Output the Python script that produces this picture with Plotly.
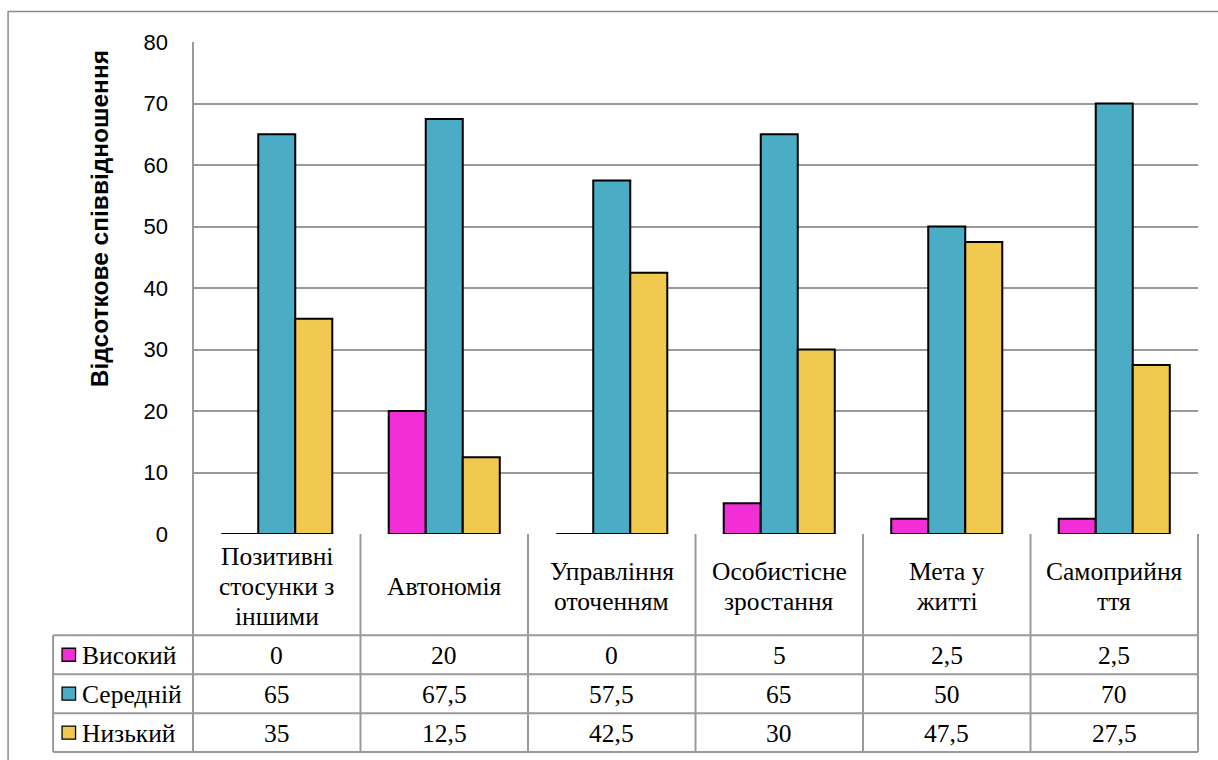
import plotly.graph_objects as go

# Data
categories = [
    "Позитивні\nстосунки з\nіншими",
    "Автономія",
    "Управління\nоточенням",
    "Особистісне\nзростання",
    "Мета у\nжитті",
    "Самоприйня\nття",
]
series_names = ["Високий", "Середній", "Низький"]
high = [0, 20, 0, 5, 2.5, 2.5]
medium = [65, 67.5, 57.5, 65, 50, 70]
low = [35, 12.5, 42.5, 30, 47.5, 27.5]
y_ticks = [0, 10, 20, 30, 40, 50, 60, 70, 80]
y_title = "Відсоткове співвідношення"

series_values = [high, medium, low]
colors = ["#F22FD6", "#4BACC6", "#F2C94F"]

# Layout geometry (pixels)
FIG_W, FIG_H = 1218, 760
L, R, T, B = 193, 1198.5, 41.5, 534.5
ROW_EDGES = [B, 636, 675, 714, 753]
LEGEND_LEFT = 53
GRID = "#9a9a9a"
SERIF = "Liberation Serif"
SANS = "Liberation Sans"
TABLE_FONT = 25.5


def fx(px):
    return (px - L) / (R - L)


def fy(py):
    return (B - py) / (B - T)


def fmt(v):
    return f"{v:g}".replace(".", ",")


x_pos = list(range(len(categories)))

fig = go.Figure()
for name, vals, col in zip(series_names, series_values, colors):
    fig.add_trace(go.Bar(
        x=x_pos, y=vals, name=name,
        marker=dict(color=col, line=dict(color="black", width=2)),
        showlegend=False,
    ))

shapes = []
annotations = []

def hline(y, x0, x1, color=GRID, width=2):
    shapes.append(dict(type="line", xref="paper", yref="paper",
                       x0=fx(x0), x1=fx(x1), y0=fy(y), y1=fy(y),
                       line=dict(color=color, width=width)))

def vline(x, y0, y1, color=GRID, width=2):
    shapes.append(dict(type="line", xref="paper", yref="paper",
                       x0=fx(x), x1=fx(x), y0=fy(y0), y1=fy(y1),
                       line=dict(color=color, width=width)))

# Outer chart border
shapes.append(dict(type="rect", xref="paper", yref="paper",
                   x0=fx(8), x1=fx(1250), y0=fy(11), y1=fy(800),
                   line=dict(color="#8c8c8c", width=1.5),
                   fillcolor="rgba(0,0,0,0)"))

# Data table grid
n = len(categories)
col_w = (R - L) / n
vline(L, T, ROW_EDGES[-1])
for k in range(1, n + 1):
    vline(L + k * col_w, B, ROW_EDGES[-1])
vline(LEGEND_LEFT, ROW_EDGES[1], ROW_EDGES[-1])
for y in ROW_EDGES[1:]:
    hline(y, LEGEND_LEFT, R)

# Category header text
line_gap = 30
for i, cat in enumerate(categories):
    lines = cat.split("\n")
    cx = L + (i + 0.5) * col_w
    for j, ln in enumerate(lines):
        cy = 587 + (j - (len(lines) - 1) / 2) * line_gap
        annotations.append(dict(xref="paper", yref="paper", x=fx(cx), y=fy(cy),
                                text=ln, showarrow=False, xanchor="center",
                                yanchor="middle",
                                font=dict(family=SERIF, size=TABLE_FONT, color="black")))

# Value rows with legend keys
for r, (name, vals, col) in enumerate(zip(series_names, series_values, colors)):
    cy = (ROW_EDGES[r + 1] + ROW_EDGES[r + 2]) / 2
    shapes.append(dict(type="rect", xref="paper", yref="paper",
                       x0=fx(62), x1=fx(75.5), y0=fy(cy - 6.5), y1=fy(cy + 6.5),
                       fillcolor=col, line=dict(color="black", width=1.3)))
    annotations.append(dict(xref="paper", yref="paper", x=fx(80), y=fy(cy + 1),
                            text=name, showarrow=False, xanchor="left",
                            yanchor="middle",
                            font=dict(family=SERIF, size=TABLE_FONT, color="black")))
    for i, v in enumerate(vals):
        cx = L + (i + 0.5) * col_w
        annotations.append(dict(xref="paper", yref="paper", x=fx(cx), y=fy(cy + 1),
                                text=fmt(v), showarrow=False, xanchor="center",
                                yanchor="middle",
                                font=dict(family=SERIF, size=TABLE_FONT, color="black")))

# Y axis title
annotations.append(dict(xref="paper", yref="paper", x=fx(99), y=fy(219),
                        text="<b>" + y_title + "</b>", showarrow=False,
                        textangle=-90, xanchor="center", yanchor="middle",
                        font=dict(family=SANS, size=24.5, color="black")))

fig.update_layout(
    width=FIG_W, height=FIG_H,
    margin=dict(l=L, r=FIG_W - R, t=T, b=FIG_H - B, pad=0),
    paper_bgcolor="white", plot_bgcolor="white",
    barmode="group", bargap=0.337, bargroupgap=0,
    shapes=shapes, annotations=annotations,
    xaxis=dict(range=[-0.5, n - 0.5], showticklabels=False, showgrid=False,
               zeroline=False, showline=False, ticks=""),
    yaxis=dict(range=[0, 80], tickvals=y_ticks, showgrid=True,
               gridcolor=GRID, gridwidth=1.6, zeroline=False, showline=False,
               ticks="", ticklabelstandoff=24,
               tickfont=dict(family=SANS, size=22, color="black")),
)

fig.write_html("out.html")
